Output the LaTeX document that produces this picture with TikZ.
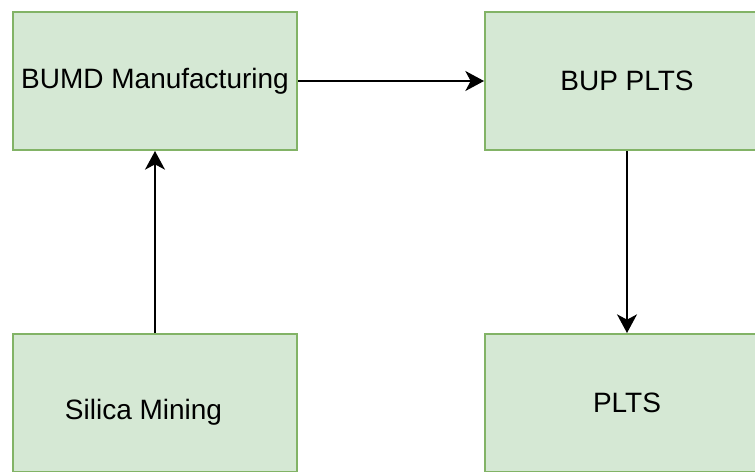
\documentclass[tikz,border=0pt]{standalone}
\usepackage{fontspec}
\setmainfont{Liberation Sans}
\usepackage{xcolor}
\usetikzlibrary{arrows.meta}
\definecolor{boxfill}{RGB}{213,232,212}
\definecolor{boxline}{RGB}{130,179,102}
\tikzset{
  stagebox/.style={draw=boxline, fill=boxfill, line width=1.5pt,
    minimum width=213pt, minimum height=103.5pt, inner sep=0pt,
    font=\fontsize{21}{25}\selectfont},
  flow/.style={line width=1.3pt,
    -{Stealth[length=14pt, width=15pt, inset=4pt]}}
}
\begin{document}
\begin{tikzpicture}[x=0.75pt,y=0.75pt,yscale=-1,xscale=1]
    \useasboundingbox (0,0) rectangle (755,471);

    % Boxes
    \node[stagebox] (bumd) at (155,81) {BUMD Manufacturing};
    \node[stagebox] (bupplts) at (627,81) {BUP PLTS};
    \node[stagebox, label={[xshift=-8.6pt, yshift=-6.8pt, font=\fontsize{21}{25}\selectfont]center:Silica Mining}] (silica) at (155,403) {};
    \node[stagebox] (plts) at (627,403) {PLTS};

    % Straight Lines
    \draw[flow] (bumd) -- (bupplts);
    \draw[flow] (silica) -- (bumd);
    \draw[flow] (bupplts) -- (plts);
\end{tikzpicture}
\end{document}
